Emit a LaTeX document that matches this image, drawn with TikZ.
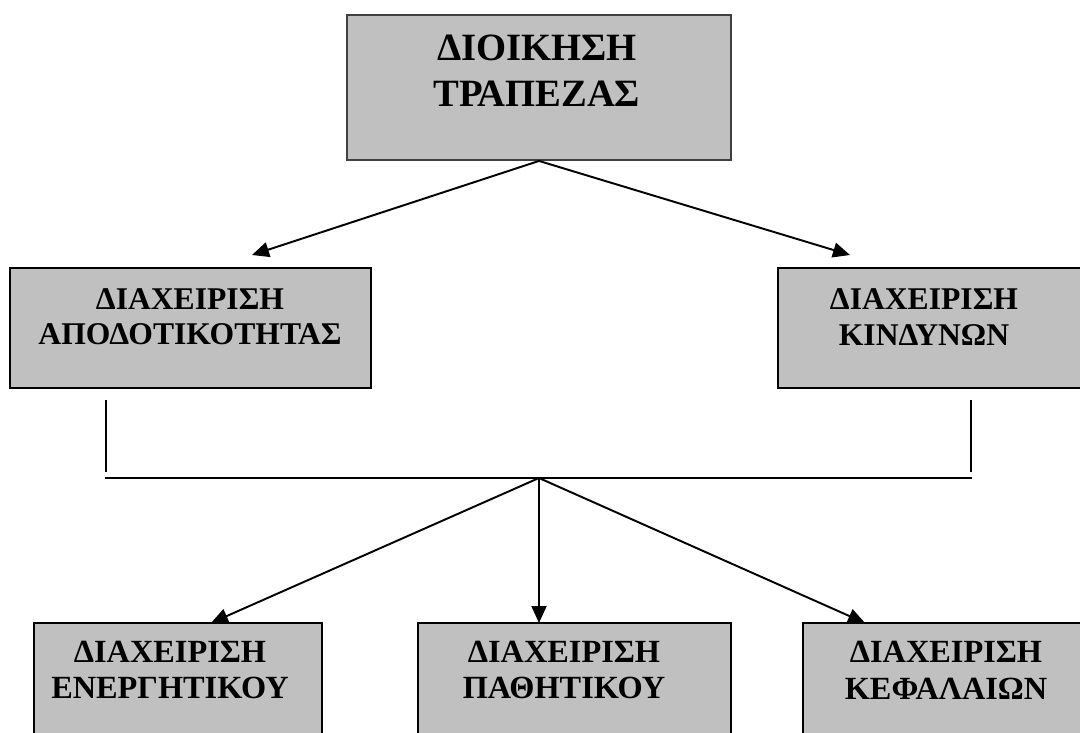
\documentclass[tikz,border=0pt]{standalone}
\usepackage{fontspec}
\setmainfont{Liberation Serif}
\usetikzlibrary{arrows.meta}
\definecolor{boxgray}{RGB}{192,192,192}

\begin{document}
\begin{tikzpicture}[x=0.02cm,y=-0.02cm,>={Triangle[length=3.4mm,width=3mm]},line width=1.1pt,
  unit/.style={rectangle,draw=black,fill=boxgray,inner sep=0pt},
  caption/.style={align=center,inner sep=0pt,font=\bfseries\fontsize{18pt}{20pt}\selectfont}]
\clip (0,0) rectangle (1080,733);
% boxes
\node[unit,draw=black!75,minimum width=7.7cm,minimum height=2.9cm] (bank) at (539,87.5) {};
\node[unit,minimum width=7.22cm,minimum height=2.4cm] (yield) at (190.5,328) {};
\node[unit,minimum width=6.44cm,minimum height=2.4cm] (risk) at (939,328) {};
\node[unit,minimum width=5.76cm,minimum height=3.14cm] (asset) at (178,701.5) {};
\node[unit,minimum width=6.26cm,minimum height=3.14cm] (liab) at (574.5,701.5) {};
\node[unit,minimum width=5.94cm,minimum height=3.14cm] (capital) at (951.5,701.5) {};

% texts
\node[caption,font=\bfseries\fontsize{22pt}{26pt}\selectfont] (bankT) at (537,71) {ΔΙΟΙΚΗΣΗ\\ΤΡΑΠΕΖΑΣ};
\node[caption] (yieldT) at (190,317) {ΔΙΑΧΕΙΡΙΣΗ\\ΑΠΟΔΟΤΙΚΟΤΗΤΑΣ};
\node[caption] (riskT) at (924,317) {ΔΙΑΧΕΙΡΙΣΗ\\ΚΙΝΔΥΝΩΝ};
\node[caption,font=\bfseries\fontsize{18.4pt}{21pt}\selectfont] (assetT) at (170,670) {ΔΙΑΧΕΙΡΙΣΗ\\ΕΝΕΡΓΗΤΙΚΟΥ};
\node[caption,font=\bfseries\fontsize{18.4pt}{21pt}\selectfont] (liabT) at (564,670) {ΔΙΑΧΕΙΡΙΣΗ\\ΠΑΘΗΤΙΚΟΥ};
\node[caption,font=\bfseries\fontsize{18.4pt}{21pt}\selectfont] (capitalT) at (946,670) {ΔΙΑΧΕΙΡΙΣΗ\\ΚΕΦΑΛΑΙΩΝ};

% free ends
\coordinate (yieldIn) at (252,255);
\coordinate (riskIn) at (850,255);
\coordinate (yieldFoot) at (106,400);
\coordinate (yieldEnd) at (106,472);
\coordinate (riskFoot) at (971,400);
\coordinate (riskEnd) at (971,472);
\coordinate (busL) at (105,478);
\coordinate (busR) at (972,478);
\coordinate (hub) at (539,478);
\coordinate (assetIn) at (211,623);
\coordinate (liabIn) at (539,623);
\coordinate (capitalIn) at (865,623);

\draw[->] (bank.south) -- (yieldIn);
\draw[->] (bank.south) -- (riskIn);
\draw (yieldFoot) -- (yieldEnd);
\draw (riskFoot) -- (riskEnd);
\draw (busL) -- (busR);
\draw[->] (hub) -- (assetIn);
\draw[->] (hub) -- (liabIn);
\draw[->] (hub) -- (capitalIn);
\end{tikzpicture}
\end{document}
